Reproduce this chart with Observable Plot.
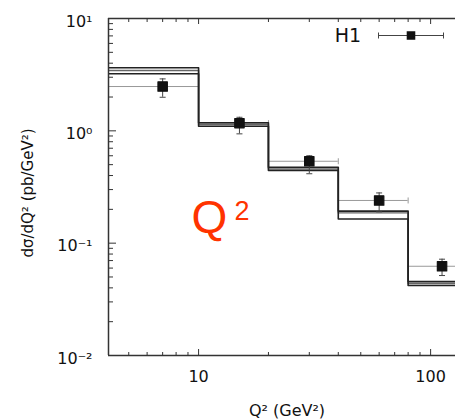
<!DOCTYPE html>
<html><head><meta charset="utf-8">
<script src="https://cdn.jsdelivr.net/npm/d3@7"></script>
<script src="https://cdn.jsdelivr.net/npm/@observablehq/plot@0.6"></script>
<style>
body{margin:0;background:#fff}
</style></head><body><div id="chart"></div>
<script>
// Q^2 bin edges (GeV^2)
const binEdges = [4, 10, 20, 40, 80, 150];
// Three model predictions per bin (pb/GeV^2)
const modelA = [3.64, 1.18, 0.474, 0.193, 0.0455];
const modelB = [3.44, 1.14, 0.458, 0.186, 0.0437];
const modelC = [3.22, 1.10, 0.443, 0.164, 0.0420];
// H1 data
const dataQ2 = [7, 15, 30, 60, 112];
const dataVal = [2.48, 1.17, 0.536, 0.240, 0.0623];
const dataLo = [1.99, 0.94, 0.415, 0.190, 0.0515];
const dataHi = [2.90, 1.32, 0.600, 0.280, 0.0720];
// ticks
const xMajor = [10, 100];
const xTickLabels = ["10", "100"];
const xMinor = [5, 6, 7, 8, 9, 20, 30, 40, 50, 60, 70, 80, 90];
const yMajor = [0.01, 0.1, 1, 10];
const yTickLabels = ["10\u207B\u00B2", "10\u207B\u00B9", "10\u2070", "10\u00B9"];
const yMinor = [0.02,0.03,0.04,0.05,0.06,0.07,0.08,0.09,0.2,0.3,0.4,0.5,0.6,0.7,0.8,0.9,2,3,4,5,6,7,8,9];
const xLabel = "Q\u00B2 (GeV\u00B2)";
const yLabel = "d\u03C3/dQ\u00B2 (pb/GeV\u00B2)";
const legendLabel = "H1";

const steps = (vals) => vals.flatMap((v, i) => [{x: binEdges[i], y: v}, {x: binEdges[i + 1], y: v}]);
const points = dataQ2.map((q, i) => ({q, v: dataVal[i], lo: dataLo[i], hi: dataHi[i], x1: binEdges[i], x2: binEdges[i + 1]}));

const capV = {draw(c){ c.moveTo(0,-3); c.lineTo(0,3); }};
const capH = {draw(c){ c.moveTo(-3,0); c.lineTo(3,0); }};
const legendBar = {draw(c){ c.moveTo(-32.5,0); c.lineTo(32.5,0); c.moveTo(-32.5,-3); c.lineTo(-32.5,3); c.moveTo(32.5,-3); c.lineTo(32.5,3); }};

const axisCol = "#333";
const chart = Plot.plot({
  width: 455, height: 420,
  marginLeft: 108, marginRight: 0, marginTop: 18, marginBottom: 65,
  x: {type: "log", domain: [4.09, 128]},
  y: {type: "log", domain: [0.01, 10]},
  style: {fontFamily: "DejaVu Sans", background: "white", color: "#111"},
  marks: [
    // horizontal data error bars (bin widths)
    Plot.ruleY(points, {y: "v", x1: "x1", x2: "x2", stroke: "#999", strokeWidth: 1, clip: true}),
    Plot.dot(points, {x: "x2", y: "v", symbol: capV, fill: "none", stroke: "#999", strokeWidth: 1, clip: true}),
    // model histograms
    Plot.line(steps(modelB), {x: "x", y: "y", stroke: "#666", strokeWidth: 1.4, clip: true}),
    Plot.line(steps(modelA), {x: "x", y: "y", stroke: "#222", strokeWidth: 1.6, clip: true}),
    Plot.line(steps(modelC), {x: "x", y: "y", stroke: "#222", strokeWidth: 1.6, clip: true}),
    // vertical error bars
    Plot.ruleX(points, {x: "q", y1: "lo", y2: "hi", stroke: "#444", strokeWidth: 1}),
    Plot.dot(points, {x: "q", y: "lo", symbol: capH, fill: "none", stroke: "#444", strokeWidth: 1}),
    Plot.dot(points, {x: "q", y: "hi", symbol: capH, fill: "none", stroke: "#444", strokeWidth: 1}),
    // data markers
    Plot.dot(points, {x: "q", y: "v", symbol: "square", r: 5.3, fill: "#111", stroke: "#111", strokeWidth: 1.2, strokeLinejoin: "round"}),
    // axes lines
    Plot.ruleY([yMajor[0]], {stroke: axisCol, strokeWidth: 1.5}),
    Plot.ruleY([yMajor[3]], {stroke: axisCol, strokeWidth: 1.5}),
    Plot.ruleX([4.09], {stroke: axisCol, strokeWidth: 1.5}),
    // ticks (inward)
    Plot.axisX(xMinor, {anchor: "bottom", tickSize: 3, dy: -3, tickFormat: () => "", label: null, stroke: axisCol}),
    Plot.axisX(xMajor, {anchor: "bottom", tickSize: 6, dy: -6, tickFormat: () => "", label: null, stroke: axisCol}),
    Plot.axisX(xMinor, {anchor: "top", tickSize: 3, dy: 3, tickFormat: () => "", label: null, stroke: axisCol}),
    Plot.axisX(xMajor, {anchor: "top", tickSize: 5, dy: 5, tickFormat: () => "", label: null, stroke: axisCol}),
    Plot.axisY(yMinor, {anchor: "left", tickSize: 5, dx: 5, tickFormat: () => "", label: null, stroke: axisCol}),
    Plot.axisY(yMajor, {anchor: "left", tickSize: 8, dx: 8, tickFormat: () => "", label: null, stroke: axisCol}),
    // tick labels
    Plot.text(xMajor, {x: d => d, frameAnchor: "bottom", lineAnchor: "middle", textAnchor: "middle", dy: 21, text: (d, i) => xTickLabels[i], fontSize: 16, fill: "#111"}),
    Plot.text(yMajor, {y: d => d, frameAnchor: "left", lineAnchor: "middle", dx: -16, dy: 3, textAnchor: "end", text: (d, i) => yTickLabels[i], fontSize: 16, fill: "#111"}),
    // axis labels
    Plot.text([xLabel], {frameAnchor: "bottom", lineAnchor: "middle", textAnchor: "middle", dx: 5, dy: 55, text: d => d, fontSize: 16, fill: "#111"}),
    Plot.text([yLabel], {frameAnchor: "left", lineAnchor: "middle", textAnchor: "middle", dx: -80, dy: 6, rotate: -90, text: d => d, fontSize: 15, fill: "#111"}),
    // legend
    Plot.text([legendLabel], {frameAnchor: "top-right", lineAnchor: "middle", textAnchor: "middle", dx: -107.5, dy: 17, text: d => d, fontSize: 19, fill: "#111"}),
    Plot.dot([0], {frameAnchor: "top-right", dx: -44.5, dy: 17, symbol: legendBar, fill: "none", stroke: "#444", strokeWidth: 1}),
    Plot.dot([0], {frameAnchor: "top-right", dx: -44.5, dy: 17, symbol: "square", r: 4, fill: "#111", stroke: "#111"}),
    // annotation
    Plot.text(["Q"], {frameAnchor: "top-left", lineAnchor: "middle", dx: 83, dy: 199.5, textAnchor: "start", text: d => d, fontSize: 46, fontFamily: "Liberation Sans", fill: "#ff3300"}),
    Plot.text(["2"], {frameAnchor: "top-left", lineAnchor: "middle", dx: 126, dy: 193, textAnchor: "start", text: d => d, fontSize: 27, fontFamily: "Liberation Sans", fill: "#ff3300"})
  ]
});
document.getElementById("chart").appendChild(chart);
</script>
</body></html>
